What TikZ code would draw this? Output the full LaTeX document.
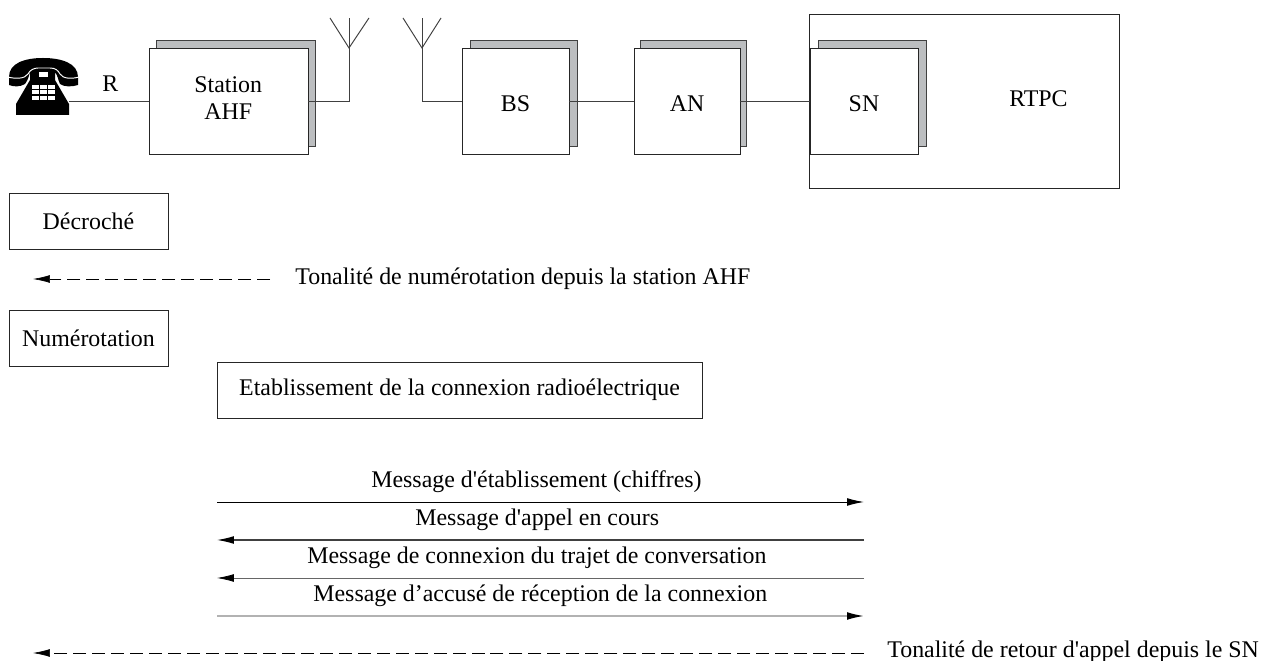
\documentclass[tikz,border=0pt]{standalone}
\usepackage{fontspec}
\setmainfont[Ligatures=TeXOff]{Liberation Serif}
\usetikzlibrary{arrows.meta}
\definecolor{shadowgray}{RGB}{188,190,192}
\tikzset{
  label text/.style={anchor=base west, inner sep=0pt, font=\fontsize{13.6}{15}\selectfont},
  box/.style={draw=black!85, line width=0.5pt, fill=white, inner sep=0pt, outer sep=0pt, align=center, font=\fontsize{13.6}{15.3}\selectfont},
  short box/.style={box, text height=12pt, text depth=0pt},
  back box/.style={draw=black!75, line width=0.5pt, fill=shadowgray, inner sep=0pt, outer sep=0pt},
  link/.style={draw=black!75, line width=0.55pt},
  msg/.style={-{Latex[length=9.6pt,width=4.4pt,black]}},
  tone/.style={msg, line width=0.35pt, dash pattern=on 7.4pt off 3.4pt}
}
\begin{document}
\begin{tikzpicture}[x=0.02cm, y=-0.02cm]
\useasboundingbox (0,0) rectangle (1262,661);

% Telephone
\fill[black] (9,77) .. controls (9,63) and (25,58) .. (43,58) .. controls (61,58) and (78,63) .. (78,77) -- (78,85) .. controls (72,87) and (64,87) .. (60,84) .. controls (58,80) and (58,76) .. (55,72) -- (55,80) -- (69,104) -- (69,115) -- (16,115) -- (16,104) -- (30,80) -- (30,72) .. controls (29,76) and (28,80) .. (25,84) .. controls (20,87) and (14,87) .. (9,85) -- cycle;
\draw[white, line width=0.55pt] (8,77) .. controls (15,79) and (25,79) .. (28,74) .. controls (30,70) and (34,68) .. (38,68) -- (50,68) .. controls (55,68) and (58,70) .. (60,74) .. controls (63,79) and (72,79) .. (79,77);
\fill[white] (39,72) rectangle (48,77);
\foreach \kx in {32,40,48} {
  \foreach \ky in {85,90.5,96} {
    \fill[white] (\kx,\ky) rectangle +(7,4);
  }
}
\coordinate (phone) at (69,101);

% Shadows behind the equipment boxes
\node[back box, minimum width=3.18cm, minimum height=2.12cm] (ahfback) at (235.5,93) {};
\node[back box, minimum width=2.14cm, minimum height=2.12cm] (bsback) at (523.5,93) {};
\node[back box, minimum width=2.12cm, minimum height=2.12cm] (anback) at (693.5,93) {};
\node[box, minimum width=6.2cm, minimum height=3.48cm] (rtpc) at (964,101) {};
\node[back box, minimum width=2.16cm, minimum height=2.12cm] (snback) at (872,93) {};

% Equipment boxes
\node[box, minimum width=3.18cm, minimum height=2.12cm] (ahf) at (228.5,101) {};
\node[label text] (ahftop) at (194,93) {Station};
\node[label text] (ahfbottom) at (204,120) {AHF};
\node[short box, minimum width=2.14cm, minimum height=2.12cm] (bs) at (515.5,101) {BS};
\node[short box, minimum width=2.12cm, minimum height=2.12cm] (an) at (687,101) {AN};
\node[short box, minimum width=2.16cm, minimum height=2.12cm] (sn) at (864,101) {SN};
\node[label text] (rtpctext) at (1009,107) {RTPC};
\node[label text] (r) at (102,92) {R};

% Antennas
\coordinate (ant1) at (349,48);
\coordinate (ant1foot) at (349,101);
\coordinate (ant1l) at (330,18);
\coordinate (ant1m) at (349,18);
\coordinate (ant1r) at (369,18);
\coordinate (ant2) at (422,48);
\coordinate (ant2foot) at (422,101);
\coordinate (ant2l) at (403,18);
\coordinate (ant2m) at (422,18);
\coordinate (ant2r) at (441,18);

% Links
\draw[link] (phone) -- (ahf.west);
\draw[link] (ahf.east) -- (ant1foot) -- (ant1m);
\draw[link] (ant1l) -- (ant1) -- (ant1r);
\draw[link] (bs.west) -- (ant2foot) -- (ant2m);
\draw[link] (ant2l) -- (ant2) -- (ant2r);
\draw[link] (bs.east) -- (an.west);
\draw[link] (an.east) -- (sn.west);

% Steps on the left
\node[box, minimum width=3.18cm, minimum height=1.12cm] (hook) at (88.5,221) {Décroché};
\node[box, minimum width=3.18cm, minimum height=1.12cm] (dial) at (88.5,338) {Numérotation};
\node[box, minimum width=9.7cm, minimum height=1.12cm] (radio) at (459.5,390) {Etablissement de la connexion radioélectrique};

% Dial tone
\coordinate (dialr) at (270,279);
\coordinate (diall) at (33,279);
\draw[tone] (dialr) -- (diall);
\node[label text] (dialtext) at (295,285) {Tonalité de numérotation depuis la station AHF};

% Messages
\coordinate (m1l) at (217,502);
\coordinate (m1r) at (864,502);
\coordinate (m2l) at (217,540);
\coordinate (m2r) at (864,540);
\coordinate (m3l) at (217,578);
\coordinate (m3r) at (864,578);
\coordinate (m4l) at (217,616);
\coordinate (m4r) at (864,616);
\draw[msg, line width=0.55pt, black] (m1l) -- (m1r);
\draw[msg, line width=0.65pt, draw=black!75] (m2r) -- (m2l);
\draw[msg, line width=0.4pt, draw=black!60] (m3r) -- (m3l);
\draw[msg, line width=0.9pt, draw=black!30] (m4l) -- (m4r);
\node[label text] (m1text) at (371,488) {Message d'établissement (chiffres)};
\node[label text] (m2text) at (415,526) {Message d'appel en cours};
\node[label text] (m3text) at (307,564) {Message de connexion du trajet de conversation};
\node[label text] (m4text) at (313,602) {Message d’accusé de réception de la connexion};

% Ring back tone
\coordinate (ringr) at (864,653);
\coordinate (ringl) at (33,653);
\draw[tone] (ringr) -- (ringl);
\node[label text] (ringtext) at (887,658) {Tonalité de retour d'appel depuis le SN};
\end{tikzpicture}
\end{document}
